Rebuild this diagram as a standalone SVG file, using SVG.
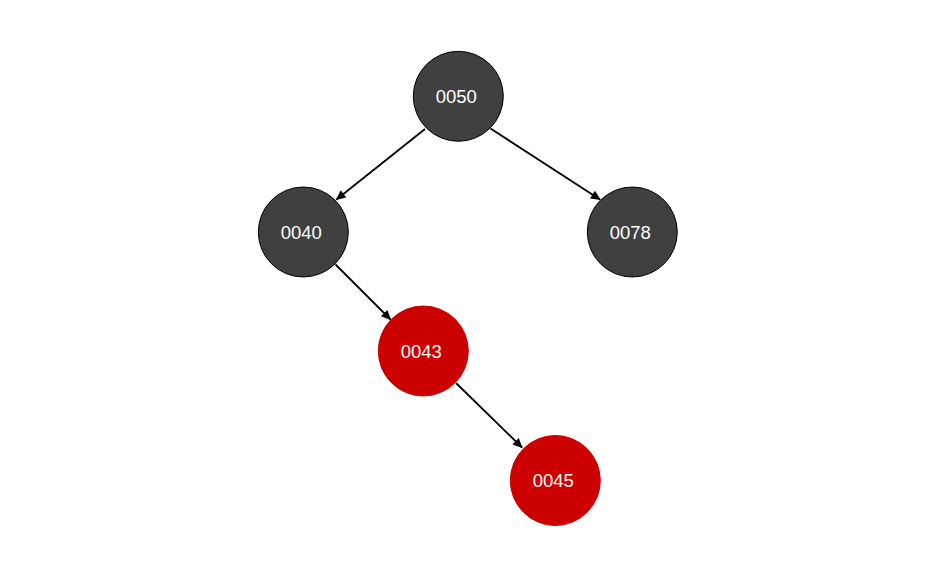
<svg xmlns="http://www.w3.org/2000/svg" width="936" height="577" viewBox="0 0 936 577">
<style>
.blk{fill:#404040;stroke:#000;stroke-width:1}
.red{fill:#CC0000;stroke:#CC0000;stroke-width:1}
.lbl{font-family:"Liberation Sans",Arial,sans-serif;font-size:18.5px;fill:#fff;text-anchor:middle}
.edge{stroke:#000;stroke-width:1.8;fill:none;marker-end:url(#arr)}
</style>
<defs>
<marker id="arr" viewBox="0 0 10 10" refX="9" refY="5" markerWidth="11" markerHeight="10" markerUnits="userSpaceOnUse" orient="auto">
<path d="M0,0.5 L10,5 L0,9.5 Z" fill="#000"/>
</marker>
</defs>
<rect width="936" height="577" fill="#fff"/>
<g id="connectors">
<line class="edge" x1="425" y1="129" x2="336.5" y2="199.5"/>
<line class="edge" x1="490.5" y1="128.5" x2="600" y2="199.5"/>
<line class="edge" x1="335.5" y1="264.5" x2="390.5" y2="319.5"/>
<line class="edge" x1="456" y1="383" x2="522" y2="447.5"/>
</g>
<g id="n0050"><circle class="blk" cx="458.3" cy="96.3" r="45"/><text class="lbl" x="456.3" y="102.8">0050</text></g>
<g id="n0040"><circle class="blk" cx="303.3" cy="232" r="45"/><text class="lbl" x="301.3" y="238.5">0040</text></g>
<g id="n0078"><circle class="blk" cx="632.3" cy="232" r="45"/><text class="lbl" x="630.3" y="238.5">0078</text></g>
<g id="n0043"><circle class="red" cx="423.3" cy="351" r="45"/><text class="lbl" x="421.3" y="357.5">0043</text></g>
<g id="n0045"><circle class="red" cx="555.3" cy="480.5" r="45"/><text class="lbl" x="553.3" y="487">0045</text></g>
</svg>
